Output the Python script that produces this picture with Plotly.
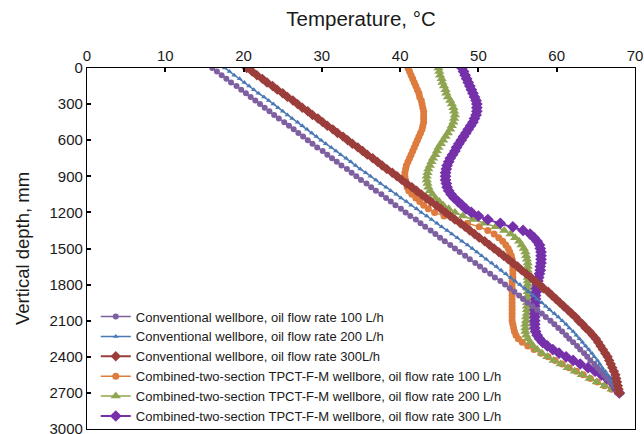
import plotly.graph_objects as go

depth = [0, 30, 60, 90, 120, 150, 180, 210, 240, 270, 300,
         330, 360, 390, 420, 450, 480, 510, 540, 570, 600,
         630, 660, 690, 720, 750, 780, 810, 840, 870, 900,
         930, 960, 990, 1020, 1050, 1080, 1110, 1140, 1170, 1200,
         1230, 1260, 1290, 1320, 1350, 1380, 1410, 1440, 1470, 1500,
         1530, 1560, 1590, 1620, 1650, 1680, 1710, 1740, 1770, 1800,
         1830, 1860, 1890, 1920, 1950, 1980, 2010, 2040, 2070, 2100,
         2130, 2160, 2190, 2220, 2250, 2280, 2310, 2340, 2370, 2400,
         2430, 2460, 2490, 2520, 2550,
         2580, 2610, 2640, 2670, 2700]

conv_100 = [16.0, 16.6, 17.2, 17.8, 18.4, 19.1, 19.7, 20.3, 20.9, 21.5, 22.1,
            22.7, 23.3, 23.9, 24.5, 25.2, 25.8, 26.4, 27.0, 27.6, 28.2,
            28.8, 29.4, 30.1, 30.7, 31.3, 31.9, 32.5, 33.2, 33.8, 34.4,
            35.0, 35.7, 36.3, 36.9, 37.6, 38.2, 38.8, 39.4, 40.1, 40.7,
            41.3, 42.0, 42.6, 43.2, 43.9, 44.5, 45.1, 45.7, 46.4, 47.0,
            47.6, 48.3, 48.9, 49.6, 50.2, 50.8, 51.5, 52.1, 52.8, 53.4,
            54.0, 54.6, 55.2, 55.7, 56.3, 56.9, 57.5, 58.1, 58.6, 59.2,
            59.7, 60.2, 60.7, 61.2, 61.6, 62.1, 62.6, 63.0, 63.5, 63.9,
            64.3, 64.8, 65.2, 65.6, 66.0,
            66.4, 66.8, 67.2, 67.6, 68.0]

conv_200 = [17.6, 18.2, 18.8, 19.5, 20.1, 20.7, 21.3, 21.9, 22.6, 23.2, 23.8,
            24.4, 25.0, 25.6, 26.2, 26.9, 27.5, 28.1, 28.7, 29.3, 29.9,
            30.5, 31.2, 31.8, 32.4, 33.1, 33.7, 34.3, 34.9, 35.6, 36.2,
            36.9, 37.5, 38.2, 38.8, 39.5, 40.1, 40.8, 41.4, 42.1, 42.7,
            43.4, 44.0, 44.7, 45.3, 46.0, 46.6, 47.3, 47.9, 48.6, 49.2,
            49.8, 50.4, 51.0, 51.7, 52.3, 52.9, 53.5, 54.1, 54.7, 55.3,
            55.9, 56.4, 57.0, 57.5, 58.1, 58.6, 59.1, 59.7, 60.2, 60.7,
            61.2, 61.6, 62.1, 62.5, 62.9, 63.3, 63.7, 64.1, 64.5, 64.8,
            65.2, 65.5, 65.8, 66.2, 66.5,
            66.8, 67.1, 67.4, 67.7, 68.0]

conv_300 = [20.4, 21.1, 21.7, 22.4, 23.0, 23.7, 24.3, 25.0, 25.6, 26.3, 26.9,
            27.5, 28.2, 28.8, 29.5, 30.1, 30.7, 31.4, 32.0, 32.7, 33.3,
            33.9, 34.6, 35.2, 35.8, 36.5, 37.1, 37.7, 38.3, 39.0, 39.6,
            40.2, 40.8, 41.5, 42.1, 42.7, 43.3, 43.9, 44.6, 45.2, 45.8,
            46.4, 47.0, 47.7, 48.3, 48.9, 49.5, 50.1, 50.8, 51.4, 52.0,
            52.6, 53.2, 53.8, 54.4, 55.0, 55.5, 56.1, 56.7, 57.2, 57.8,
            58.3, 58.9, 59.4, 59.9, 60.4, 60.9, 61.4, 61.9, 62.4, 62.8,
            63.3, 63.7, 64.2, 64.6, 65.0, 65.3, 65.6, 65.9, 66.2, 66.5,
            66.7, 66.9, 67.1, 67.3, 67.5,
            67.6, 67.7, 67.8, 67.9, 68.0]

comb_100 = [41.0, 41.2, 41.4, 41.6, 41.8, 42.0, 42.2, 42.4, 42.5, 42.7, 42.8,
            42.9, 43.0, 43.0, 43.0, 43.0, 42.9, 42.8, 42.6, 42.4, 42.2,
            42.0, 41.8, 41.6, 41.4, 41.2, 41.0, 40.8, 40.7, 40.6, 40.6,
            40.7, 40.8, 40.9, 41.1, 41.5, 42.0, 42.5, 43.0, 43.6, 44.4,
            45.6, 47.0, 48.6, 50.1, 51.2, 52.0, 52.6, 53.1, 53.5, 53.8,
            54.0, 54.2, 54.3, 54.4, 54.4, 54.4, 54.4, 54.4, 54.3, 54.3,
            54.3, 54.3, 54.3, 54.3, 54.3, 54.3, 54.3, 54.3, 54.3, 54.3,
            54.4, 54.5, 54.6, 54.8, 55.1, 55.6, 56.3, 57.1, 58.0, 58.9,
            59.8, 60.7, 61.6, 62.5, 63.4,
            64.3, 65.2, 66.1, 67.0, 68.0]

comb_200 = [44.9, 45.0, 45.1, 45.3, 45.4, 45.6, 45.8, 45.9, 46.1, 46.4, 46.6,
            46.8, 46.9, 47.0, 46.9, 46.8, 46.6, 46.4, 46.1, 45.8, 45.5,
            45.2, 44.9, 44.7, 44.5, 44.2, 44.0, 43.8, 43.6, 43.5, 43.4,
            43.4, 43.5, 43.6, 43.8, 44.1, 44.5, 45.0, 45.5, 46.2, 47.0,
            48.0, 49.3, 50.8, 52.2, 53.3, 54.1, 54.7, 55.2, 55.5, 55.8,
            56.0, 56.1, 56.2, 56.3, 56.3, 56.3, 56.3, 56.3, 56.3, 56.3,
            56.3, 56.3, 56.3, 56.2, 56.2, 56.2, 56.2, 56.2, 56.1, 56.1,
            56.0, 56.0, 56.0, 56.1, 56.3, 56.6, 57.0, 57.5, 58.1, 58.8,
            59.6, 60.5, 61.4, 62.3, 63.2,
            64.2, 65.1, 66.1, 67.0, 68.0]

comb_300 = [47.9, 48.1, 48.3, 48.5, 48.7, 48.9, 49.1, 49.3, 49.5, 49.7, 49.8,
            49.8, 49.8, 49.7, 49.5, 49.3, 49.0, 48.7, 48.4, 48.1, 47.8,
            47.5, 47.2, 47.0, 46.7, 46.4, 46.2, 46.0, 45.9, 45.8, 45.8,
            45.8, 45.9, 46.0, 46.2, 46.5, 46.9, 47.4, 47.9, 48.4, 49.1,
            50.0, 51.2, 52.8, 54.4, 55.7, 56.6, 57.1, 57.5, 57.8, 57.9,
            58.0, 58.0, 58.0, 58.0, 57.9, 57.9, 57.8, 57.7, 57.6, 57.5,
            57.4, 57.4, 57.3, 57.3, 57.3, 57.2, 57.2, 57.2, 57.2, 57.2,
            57.2, 57.2, 57.3, 57.5, 57.8, 58.2, 58.8, 59.5, 60.3, 61.2,
            62.1, 63.0, 64.0, 64.9, 65.7,
            66.4, 67.0, 67.4, 67.7, 68.0]

names = [
    "Conventional wellbore, oil flow rate 100 L/h",
    "Conventional wellbore, oil flow rate 200 L/h",
    "Conventional wellbore, oil flow rate 300L/h",
    "Combined-two-section TPCT-F-M wellbore, oil flow rate 100 L/h",
    "Combined-two-section TPCT-F-M wellbore, oil flow rate 200 L/h",
    "Combined-two-section TPCT-F-M wellbore, oil flow rate 300 L/h",
]

series = [conv_100, conv_200, conv_300, comb_100, comb_200, comb_300]
colors = ["#7E60A0", "#4A78B4", "#9B3E3B", "#DD7C3E", "#8EA450", "#7530AA"]
symbols = ["circle", "triangle-up", "diamond", "circle", "triangle-up", "diamond"]
sizes = [6, 5, 8, 7, 9, 9]
widths = [1.5, 1.5, 2, 1.5, 1.5, 2]

fig = go.Figure()
# combined series first, conventional drawn on top (as in the reference)
order = [3, 4, 5, 0, 1, 2]
for i in order:
    fig.add_trace(go.Scatter(
        x=series[i], y=depth, name=names[i], mode="lines+markers",
        line=dict(color=colors[i], width=widths[i]),
        marker=dict(symbol=symbols[i], size=sizes[i], color=colors[i], line=dict(width=0)),
        legendrank=i + 1,
    ))

font_family = "Liberation Sans, Arial, sans-serif"
fig.update_layout(
    width=644, height=434,
    margin=dict(l=87, r=9, t=68, b=2),
    paper_bgcolor="white", plot_bgcolor="white",
    font=dict(family=font_family, size=15, color="#1a1a1a"),
    showlegend=True,
    legend=dict(x=0.016, y=-0.007, xanchor="left", yanchor="bottom",
                bgcolor="rgba(0,0,0,0)", font=dict(size=13, color="#1a1a1a"),
                tracegroupgap=0, itemwidth=30),
    xaxis=dict(
        range=[0, 70], dtick=10, side="top", automargin=False,
        title=dict(text="Temperature, °C", font=dict(size=20.5), standoff=14),
        showgrid=False, zeroline=False,
        showline=True, linecolor="black", linewidth=1.3, mirror=True,
        ticks="inside", ticklen=4, tickwidth=1.5, tickcolor="black",
        tickfont=dict(size=15), ticklabeloverflow="allow",
    ),
    yaxis=dict(
        range=[3000, 0], dtick=300, tick0=0, automargin=False,
        title=dict(text="Vertical depth, mm", font=dict(size=18.5), standoff=14),
        showgrid=False, zeroline=False,
        showline=True, linecolor="black", linewidth=1.3, mirror=True,
        ticks="inside", ticklen=4, tickwidth=1.5, tickcolor="black",
        tickfont=dict(size=15), ticklabeloverflow="allow",
    ),
)

fig.write_html("out.html",
               config={"displayModeBar": False},
               post_script="document.body.style.margin='0';document.body.style.padding='0';")
